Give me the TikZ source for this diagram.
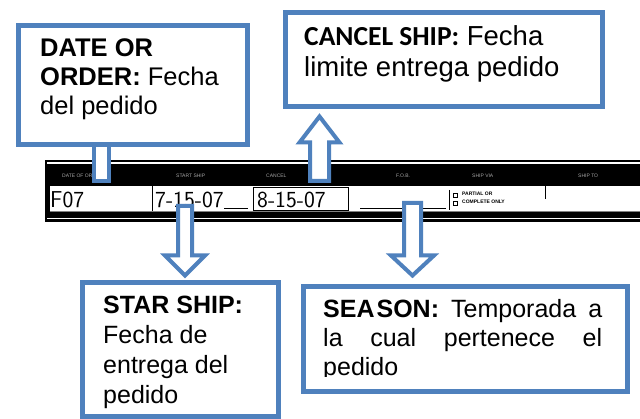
\documentclass[tikz,border=0pt]{standalone}
\usepackage{fontspec}
\setmainfont{Liberation Sans}
\newfontfamily\calibri{Carlito}
\usetikzlibrary{calc}
\definecolor{boxblue}{RGB}{79,129,189}
\tikzset{
  bluebox/.style={draw=boxblue, line width=5pt, fill=white, inner sep=0pt, anchor=north west},
  blockarrow/.style={draw=boxblue, line width=4pt, fill=white, line join=miter},
  boxtext/.style={anchor=base west, inner sep=0pt, text=black},
  hand/.style={anchor=base west, inner sep=0pt, font=\sffamily\fontsize{23}{23}\selectfont},
  hdr/.style={anchor=base west, inner sep=0pt, text=gray!70, font=\fontsize{5}{5}\selectfont},
  formline/.style={draw=black, line width=1pt}
}
% vertical block arrow: #1 tail, #2 tip, #3 half shaft, #4 half head, #5 head length
\newcommand{\vblockarrow}[5]{%
  \draw[blockarrow] let \p1=(#1), \p2=(#2), \n1={sign(\y2-\y1)} in
    (\x1-#3,\y1) -- (\x1-#3,\y2-\n1*#5) -- (\x1-#4,\y2-\n1*#5) -- (\x1,\y2)
    -- (\x1+#4,\y2-\n1*#5) -- (\x1+#3,\y2-\n1*#5) -- (\x1+#3,\y1) -- cycle;}
\begin{document}
\begin{tikzpicture}[x=1pt,y=-1pt]
\useasboundingbox[fill=white] (0,0) rectangle (640,419);

% ---- the scanned form strip ----
\node[fill=black, inner sep=0pt, minimum width=595pt, minimum height=62pt, anchor=north west] (form) at (45,160) {};
\fill[white] (47,162) rectangle (640,164.5);
\fill[white] (50,186) rectangle (640,212);
\fill[white] (47,218) rectangle (640,219.5);
% header labels
\node[hdr] (h1) at (62,178) {DATE OF ORDER};
\node[hdr] (h2) at (176,178) {START SHIP};
\node[hdr] (h3) at (266,178) {CANCEL};
\node[hdr] (h4) at (396,178) {F.O.B.};
\node[hdr] (h5) at (472,178) {SHIP VIA};
\node[hdr] (h6) at (578,178) {SHIP TO};
% cells
\draw[formline] (152,186) -- (152,212);
\draw[formline] (253,188) rectangle (348,211);
\draw[formline] (224,209) -- (248,209);
\draw[formline] (360,209) -- (446,209);
\draw[formline] (449,190) -- (449,210);
\draw[line width=0.8pt] (453,193) rectangle (457,197);
\draw[line width=0.8pt] (453,201) rectangle (457,205);
\node[anchor=base west, inner sep=0pt, font=\bfseries\fontsize{5}{5}\selectfont] (p1) at (462,196) {PARTIAL OR};
\node[anchor=base west, inner sep=0pt, font=\bfseries\fontsize{5}{5}\selectfont] (p2) at (462,204) {COMPLETE ONLY};
\draw[formline] (545,186) -- (545,199);
\draw[line width=0.5pt, gray] (50,211) -- (640,211);
% handwriting
\node[hand] (d1) at (50,208) {F07};
\node[hand] (d2) at (155,208) {7-15-07};
\node[hand] (d3) at (257,208) {8-15-07};

% ---- connector from DATE OR ORDER box ----
\draw[blockarrow] (94,140) rectangle (109,181);

% ---- boxes ----
\node[bluebox, minimum width=229pt, minimum height=119pt] (boxA) at (15.5,23.5) {};
\node[bluebox, minimum width=317pt, minimum height=94pt] (boxB) at (282.5,10.5) {};
\node[bluebox, minimum width=196pt, minimum height=134pt] (boxC) at (79.5,280.5) {};
\node[bluebox, minimum width=324pt, minimum height=105pt] (boxD) at (300.5,284.5) {};

% ---- block arrows ----
\coordinate (tailB) at (319.5,181);
\coordinate (tipB) at ([yshift=-7pt]tailB |- boxB.south);
\vblockarrow{tailB}{tipB}{9.5pt}{20pt}{26pt}
\coordinate (tailC) at (185,206);
\coordinate (tipC) at ([yshift=5pt]tailC |- boxC.north);
\vblockarrow{tailC}{tipC}{7pt}{20pt}{20pt}
\coordinate (tailD) at (412.5,203);
\coordinate (tipD) at ([yshift=9pt]tailD |- boxD.north);
\vblockarrow{tailD}{tipD}{8.5pt}{21.5pt}{20pt}

% ---- texts ----
\node[boxtext] (tA) at (40,57) {\parbox[t]{200pt}{\raggedright\fontsize{25.5}{29}\selectfont
  \textbf{DATE OR}\\\textbf{ORDER:} Fecha\\del pedido}};
\node[boxtext] (tB) at (304,46) {\parbox[t]{290pt}{\raggedright\fontsize{27.5}{31}\selectfont
  {\calibri\bfseries CANCEL SHIP:} Fecha\\limite entrega pedido}};
\node[boxtext] (tC) at (103,314) {\parbox[t]{170pt}{\raggedright\fontsize{25}{30}\selectfont
  \textbf{STAR SHIP:}\\Fecha de\\entrega del\\pedido}};
\begin{scope}
\clip (300,290) rectangle (624,377);
\node[boxtext] (tD) at (323,318) {\parbox[t]{279pt}{\fontsize{25}{29}\selectfont
  \makebox[279pt][s]{\textbf{SEA\kern2pt SON:} Temporada a}\\
  \makebox[279pt][s]{la cual pertenece el}\\
  pedido}};
\end{scope}
\end{tikzpicture}
\end{document}
